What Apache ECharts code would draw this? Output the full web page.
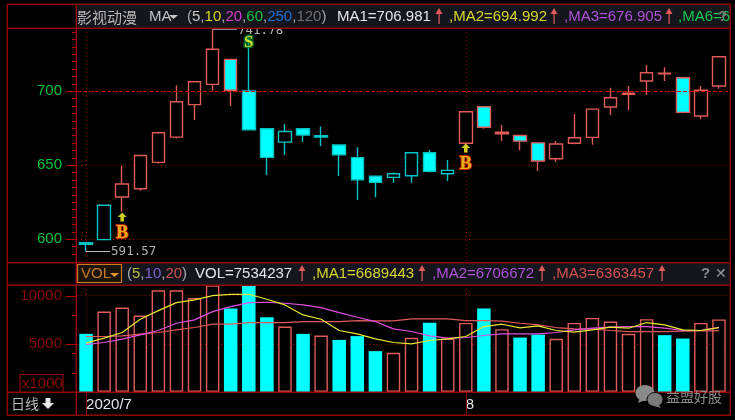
<!DOCTYPE html>
<html><head><meta charset="utf-8">
<style>html,body{margin:0;padding:0;background:#000}#c{width:735px;height:420px}</style>
<script src="https://cdn.jsdelivr.net/npm/echarts@6/dist/echarts.min.js"></script>
</head><body><div id="c"></div>
<script>
const dates=['2020/7','','','','','','','','','','','','','','','','','','','','','8','','','','','','','','','','','','','',''];
const opens =[597.5,599.6,628.4,634,651.8,668.9,690.8,704.5,721.4,700,674.5,665.5,674.5,669,663.5,655,642.4,641.7,642.8,658.3,644.1,664.7,689.4,671.2,670,665,654.3,664.7,668.7,689.2,697.8,706.8,712.1,709,683.1,703.4];
const closes=[596.5,622.8,637.2,656.5,671.8,692.8,706.3,728.2,700.5,673.9,655.2,672.7,670.3,669.8,657,640,638.4,644.1,658.3,645.7,646.4,686,675.5,672.2,666.2,652.7,664.2,668.4,687.8,695.5,698.6,712.4,711.7,685.6,700.5,723.2];
const lows  =[591.57,599.6,618.5,632.6,651.1,668,680.4,700.2,689.9,673.9,643.2,656.8,665.5,662.8,642.6,626.4,628.2,638,638,645,639.2,664,674.5,666.2,660,646,652.2,664,663.7,683.8,687.2,697.3,706.8,685,681,701.6];
const highs =[597.5,622.8,649.3,656.5,671.8,704,706.3,741.78,721.4,738,674.5,677.7,674.5,676,663.5,662,642.4,645,658.3,660.1,653.4,686,689.4,677,670,665,666.2,684.5,687.8,702.2,703.4,717.6,716,709,703.4,723.2];
const hollowCyan=[1,11,13,17,18,20];
const redEdge=[8,22,24,25,32,33];
const volumes=[6035,8345,8760,7930,10560,10560,9760,11080,8660,11500,7760,6790,6035,5860,5410,5800,4240,4070,5620,7200,5550,7170,8660,6520,5650,5960,5520,7170,7690,7310,6035,7560,5900,5550,7170,7534];
const volMa5=[5071,5588,6175,7555,8452,9280,9556,10005,10143,10143,9625,9040,8003,7555,6382,6037,5520,5140,5002,5347,5520,5761,6796,7037,6658,6865,6382,6210,6451,6727,6623,7210,6969,6451,6382,6689];
const volMa10=[4933,5140,5485,5934,6382,7140,7486,8348,8866,9280,9315,9211,9040,8762,8245,7762,7313,6554,6278,5830,5590,5658,5865,6037,6037,6037,6175,6451,6624,6727,6796,6796,6624,6382,6382,6706];
const volMa20=[5761,5761,5830,6003,6175,6451,6693,7037,7037,7210,7210,7210,7313,7313,7313,7417,7382,7382,7590,7590,7590,7417,7417,7348,7140,6969,6693,6554,6520,6382,6278,6278,6278,6313,6347,6363];
const buyIdx=[2,21], buyPrice=[604,650.7], buyArrow=[614.9,661.5];
const sellIdx=[9], sellPrice=[732.8];
const monthIdx=[0,21];
const priceTicks=[600,650,700], volTicks=[5000,10000];
const priceMinor=[590,595,605,610,615,620,625,630,635,640,645,655,660,665,670,675,680,685,690,695,705,710,715,720,725,730,735,740];
const volMinor=[2000,4000,8000];
const RED='#e05a5a',CY='#00ffff',CYD='#00c4c4',FR='#8c0808',SANS='"Liberation Sans",Arial,sans-serif';
const n=dates.length;
const candles=dates.map((_,i)=>{
  const up=closes[i]>=opens[i];
  const edge=up?(hollowCyan.includes(i)?CYD:RED):(redEdge.includes(i)?RED:CYD);
  const fill=up?'#000':CY;
  return {value:[opens[i],closes[i],lows[i],highs[i]],itemStyle:{color:fill,color0:fill,borderColor:edge,borderColor0:edge,borderWidth:1.4}};
});
const bars=volumes.map((v,i)=>closes[i]>=opens[i]
  ?{value:v,itemStyle:{color:'#000',borderColor:RED,borderWidth:1.4}}
  :{value:v,itemStyle:{color:CY,borderWidth:0}});
const g=[];
const rect=(x,y,w,h,fill,z)=>g.push({type:'rect',z:z||100,shape:{x,y,width:w,height:h},style:{fill}});
const hl=(x1,x2,y)=>rect(x1,y-0.5,x2-x1,1.5,FR,102);
const vl=(x,y1,y2)=>rect(x-0.5,y1,1.5,y2-y1,FR,102);
const txt=(x,y,text,fill,font)=>g.push({type:'text',z:103,x,y,style:{text,fill,font:font||('15px '+SANS),textVerticalAlign:'middle'}});
const arrow=(x,y)=>{rect(x-0.5,y-4,1.2,13,RED,103);g.push({type:'polygon',z:103,shape:{points:[[x,y-7],[x-3.5,y-1],[x+3.5,y-1]]},style:{fill:RED}});};
const tri=(x,y,c)=>g.push({type:'polygon',z:103,shape:{points:[[x,y],[x+9,y],[x+4.5,y+4]]},style:{fill:c}});
rect(77,5,653,23,'#15151d',100);
rect(77,263,653,22,'#15151d',100);
[4,28,262.5,285,392,415].forEach(y=>hl(7,731,y));
vl(7,4,415);vl(76,4,415);vl(730,4,415);
txt(77,17,'影视动漫','#b8b8b8','15px "Noto Sans CJK SC"');
txt(149,17,'MA','#c0c0c8');tri(169,15,'#c8c8c8');
let x=187;[['(','#a8a8b0'],['5','#c8c8c8'],[',','#a8a8b0'],['10','#d8d820'],[',','#a8a8b0'],['20','#d040d0'],[',','#a8a8b0'],['60','#10c040'],[',','#a8a8b0'],['250','#2070d0'],[',','#a8a8b0'],['120','#707070'],[')','#a8a8b0']].forEach(p=>{
  txt(x,17,p[0],p[1]);x+=p[0]==='('||p[0]===')'?5:p[0]===','?4.2:p[0].length*8.34;
});
txt(337,17,'MA1=706.981','#dfe6ee');arrow(439,15);
txt(449,17,',MA2=694.992','#d6d628');arrow(554,15);
txt(564,17,',MA3=676.905','#b050d8');arrow(669,15);
txt(678,17,',MA6=6','#10c850');
txt(718,17,'?','#777','bold 15px '+SANS);
g.push({type:'rect',z:103,shape:{x:77.5,y:264.5,width:44,height:18},style:{fill:'#1c1408',stroke:'#d07a20',lineWidth:1.2}});
txt(81,274,'VOL','#c87a28');tri(110,273,'#e89030');
x=127;[['(','#a8a8b0'],['5','#b8c040'],[',','#a8a8b0'],['10','#8060d0'],[',','#a8a8b0'],['20','#d05050'],[')','#a8a8b0']].forEach(p=>{
  txt(x,274,p[0],p[1]);x+=p[0]==='('||p[0]===')'?5:p[0]===','?4.2:p[0].length*8.34;
});
txt(195,274,'VOL=7534237','#dfe6ee');arrow(302,272);
txt(312,274,',MA1=6689443','#d6d628');arrow(422,272);
txt(432,274,',MA2=6706672','#b050d8');arrow(542,272);
txt(552,274,',MA3=6363457','#d85050');arrow(662,272);
txt(701,274,'?','#888','bold 15px '+SANS);
txt(715,274,'✕','#999','bold 14px "DejaVu Sans"');
g.push({type:'rect',z:103,shape:{x:20,y:374.5,width:43,height:17.5},style:{fill:'#000',stroke:FR,lineWidth:1.2}});
txt(22,384,'x1000',FR);
txt(11,404,'日线','#b8b8b8','14px "Noto Sans CJK SC"');
g.push({type:'polygon',z:103,shape:{points:[[48,409],[42,403],[45.5,403],[45.5,398],[50.5,398],[50.5,403],[54,403]]},style:{fill:'#e8e8e8'}});
g.push({type:'ellipse',z:104,shape:{cx:645,cy:393,rx:9.5,ry:8},style:{fill:'#8a8a8a'}});
g.push({type:'polygon',z:104,shape:{points:[[640,398],[638,403],[645,400]]},style:{fill:'#8a8a8a'}});
g.push({type:'ellipse',z:105,shape:{cx:655,cy:399.5,rx:8,ry:7},style:{fill:'#7a7a7a',stroke:'#000',lineWidth:1}});
g.push({type:'polygon',z:105,shape:{points:[[658,404],[661,408],[654,406]]},style:{fill:'#7a7a7a'}});
txt(666,397,'益盟好股','#8c8c8c','14px "Noto Sans CJK SC"');

const dot=c=>({show:true,lineStyle:{color:c,type:[1,3],width:1}});
const axLabel=(c,vals)=>({show:true,color:c,fontSize:15,fontFamily:SANS,margin:15,customValues:vals,showMinLabel:true,showMaxLabel:true,formatter:v=>String(v)});
const noTick=vals=>({show:false,customValues:vals});
const option={
  backgroundColor:'#000',animation:false,
  grid:[{left:77,width:651,top:28,height:234},{left:77,width:651,top:285,height:107}],
  xAxis:[
    {type:'category',gridIndex:0,data:dates,axisLine:{show:false},axisTick:{show:false},axisLabel:{show:false},splitLine:{show:false}},
    {type:'category',gridIndex:1,data:dates,axisLine:{show:false},axisTick:{show:false},splitLine:{show:false},
      axisLabel:{show:true,interval:(i,v)=>v!=='',align:'left',color:'#dfe6ee',fontSize:15,fontFamily:SANS,margin:5}},
    {type:'value',gridIndex:0,min:-0.5,max:n-0.5,axisLine:{show:false},axisLabel:{show:false},axisTick:noTick(monthIdx),splitLine:dot('#a00000')},
    {type:'value',gridIndex:1,min:-0.5,max:n-0.5,axisLine:{show:false},axisLabel:{show:false},axisTick:noTick(monthIdx),splitLine:dot('#a00000')}
  ],
  yAxis:[
    {type:'value',gridIndex:0,min:584.5,max:742.6,axisLine:{show:false},axisTick:noTick(priceTicks),axisLabel:axLabel('#00c040',priceTicks),splitLine:dot('#a00000')},
    {type:'value',gridIndex:1,min:0,max:11108,axisLine:{show:false},axisTick:noTick(volTicks),axisLabel:axLabel('#8c0808',volTicks),splitLine:dot('#a00000')}
  ],
  series:[
    {type:'candlestick',xAxisIndex:0,yAxisIndex:0,barWidth:13,data:candles,
      markLine:{silent:true,symbol:'none',label:{show:false},lineStyle:{color:'#d00000',type:[4,2],width:1.2},data:[{yAxis:700}]}},
    {type:'line',xAxisIndex:2,yAxisIndex:0,symbol:'none',lineStyle:{color:'#c0c0c0',width:1},z:5,
      data:[[7,highs[7]],[8.35,highs[7]]],
      endLabel:{show:true,formatter:()=>highs[7].toFixed(2),color:'#b0b0b0',fontFamily:'"DejaVu Sans Mono"',fontSize:12.5,distance:1,offset:[0,2]}},
    {type:'line',xAxisIndex:2,yAxisIndex:0,symbol:'none',lineStyle:{color:'#c0c0c0',width:1},z:5,
      data:[[0,lows[0]],[1.33,lows[0]]],
      endLabel:{show:true,formatter:()=>lows[0].toFixed(2),color:'#b0b0b0',fontFamily:'"DejaVu Sans Mono"',fontSize:12.5,distance:1}},
    {type:'scatter',xAxisIndex:2,yAxisIndex:0,z:6,symbol:'path://M5 0 L10 5 L7 5 L7 10 L3 10 L3 5 L0 5 Z',symbolSize:[9,9],itemStyle:{color:'#ffff20'},
      data:buyIdx.map((v,i)=>[v,buyArrow[i]])},
    {type:'scatter',xAxisIndex:2,yAxisIndex:0,z:6,symbolSize:1,itemStyle:{color:'transparent'},
      label:{show:true,position:'inside',formatter:'B',color:'#ffd020',fontFamily:'"Liberation Serif"',fontWeight:'bold',fontSize:18,textBorderColor:'#e83000',textBorderWidth:2},
      data:buyIdx.map((v,i)=>[v,buyPrice[i]])},
    {type:'scatter',xAxisIndex:2,yAxisIndex:0,z:6,symbolSize:1,itemStyle:{color:'transparent'},
      label:{show:true,position:'inside',formatter:'S',color:'#ffff30',fontFamily:'"Liberation Serif"',fontWeight:'bold',fontSize:17,textBorderColor:'#007a30',textBorderWidth:3},
      data:sellIdx.map((v,i)=>[v,sellPrice[i]])},
    {type:'bar',xAxisIndex:1,yAxisIndex:1,barWidth:13.5,data:bars},
    {type:'line',xAxisIndex:1,yAxisIndex:1,symbol:'none',z:4,lineStyle:{color:RED,width:1.2},data:volMa20},
    {type:'line',xAxisIndex:1,yAxisIndex:1,symbol:'none',z:4,lineStyle:{color:'#e050e0',width:1.2},data:volMa10},
    {type:'line',xAxisIndex:1,yAxisIndex:1,symbol:'none',z:4,lineStyle:{color:'#e8e830',width:1.2},data:volMa5}
  ],
  graphic:{elements:g}
};
const chart=echarts.init(document.getElementById('c'),null,{renderer:'canvas'});
chart.setOption(option);
const TICK='#b00000';
const ticks=(yi,vals,len)=>vals.forEach(v=>{
  const y=Math.round(chart.convertToPixel({yAxisIndex:yi},v));
  rect(76-len,y,len,1,TICK,106);
});
ticks(0,priceTicks,10);ticks(0,priceMinor,4);ticks(1,volTicks,10);ticks(1,volMinor,4);
monthIdx.forEach(i=>{
  const px=Math.round(chart.convertToPixel({xAxisIndex:3},i));
  rect(px,392,1,23,FR,106);
});
chart.setOption({graphic:{elements:g}});
</script></body></html>
